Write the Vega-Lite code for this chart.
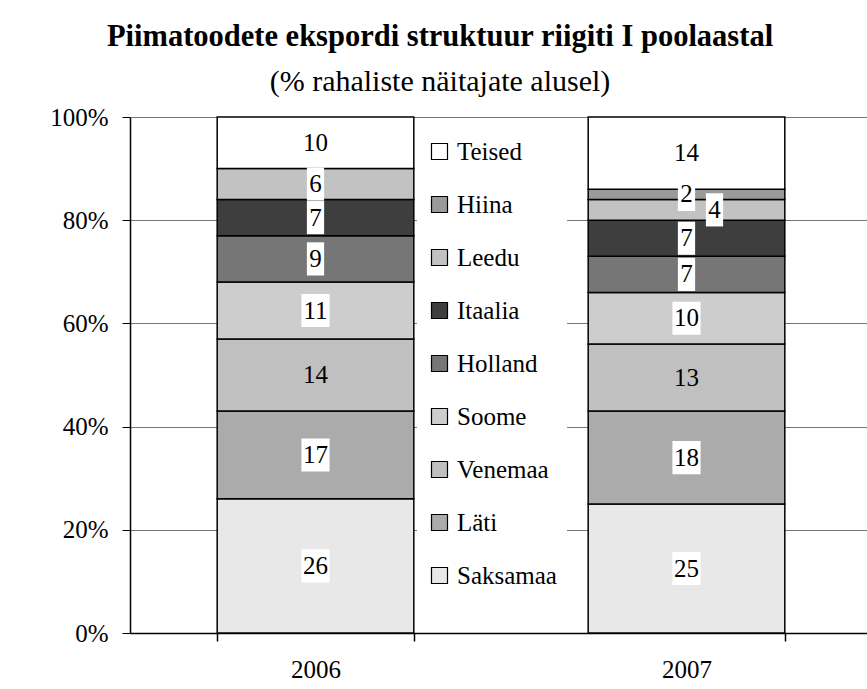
{
  "$schema": "https://vega.github.io/schema/vega-lite/v6.json",
  "width": 742,
  "height": 516,
  "autosize": "none",
  "padding": {"left": 130, "top": 117, "right": 0, "bottom": 56},
  "background": "white",
  "title": {
    "text": "Piimatoodete ekspordi struktuur riigiti I poolaastal",
    "subtitle": "(% rahaliste näitajate alusel)",
    "font": "Liberation Serif",
    "fontSize": 30.5,
    "fontWeight": "bold",
    "color": "black",
    "subtitleFont": "Liberation Serif",
    "subtitleFontSize": 30,
    "subtitleColor": "black",
    "subtitlePadding": 15,
    "anchor": "middle",
    "frame": "group",
    "dx": -61,
    "offset": 8
  },
  "data": {
    "values": [
      {"year": "2006", "country": "Saksamaa", "rank": 1, "value": 26},
      {"year": "2006", "country": "Läti", "rank": 2, "value": 17},
      {"year": "2006", "country": "Venemaa", "rank": 3, "value": 14},
      {"year": "2006", "country": "Soome", "rank": 4, "value": 11},
      {"year": "2006", "country": "Holland", "rank": 5, "value": 9},
      {"year": "2006", "country": "Itaalia", "rank": 6, "value": 7},
      {"year": "2006", "country": "Leedu", "rank": 7, "value": 6},
      {"year": "2006", "country": "Teised", "rank": 9, "value": 10},
      {"year": "2007", "country": "Saksamaa", "rank": 1, "value": 25},
      {"year": "2007", "country": "Läti", "rank": 2, "value": 18},
      {"year": "2007", "country": "Venemaa", "rank": 3, "value": 13},
      {"year": "2007", "country": "Soome", "rank": 4, "value": 10},
      {"year": "2007", "country": "Holland", "rank": 5, "value": 7},
      {"year": "2007", "country": "Itaalia", "rank": 6, "value": 7},
      {"year": "2007", "country": "Leedu", "rank": 7, "value": 4},
      {"year": "2007", "country": "Hiina", "rank": 8, "value": 2},
      {"year": "2007", "country": "Teised", "rank": 9, "value": 14}
    ]
  },
  "transform": [
    {"stack": "value", "groupby": ["year"], "sort": [{"field": "rank", "order": "ascending"}], "as": ["v0", "v1"]},
    {"calculate": "(datum.v0 + datum.v1) / 2", "as": "mid"}
  ],
  "encoding": {
    "x": {
      "field": "year",
      "type": "nominal",
      "scale": {"paddingInner": 0.47, "paddingOuter": 0.235},
      "axis": {
        "title": null,
        "labelAngle": 0,
        "labelFont": "Liberation Serif",
        "labelFontSize": 25,
        "labelColor": "black",
        "labelPadding": 16,
        "domainColor": "black",
        "domainWidth": 1.5,
        "tickColor": "black",
        "tickSize": 8,
        "tickWidth": 1.5,
        "tickBand": "extent",
        "grid": false
      }
    }
  },
  "layer": [
    {
      "mark": {"type": "bar", "stroke": "black", "strokeWidth": 1.5},
      "encoding": {
        "y": {
          "field": "v0",
          "type": "quantitative",
          "scale": {"domain": [0, 100], "nice": false},
          "axis": {
            "title": null,
            "values": [0, 20, 40, 60, 80, 100],
            "labelExpr": "datum.value + '%'",
            "labelFont": "Liberation Serif",
            "labelFontSize": 25,
            "labelColor": "black",
            "labelPadding": 14,
            "domainColor": "black",
            "domainWidth": 1.5,
            "tickColor": "black",
            "tickSize": 8,
            "tickWidth": 1,
            "grid": true,
            "gridColor": "#777777",
            "gridWidth": 1.2
          }
        },
        "y2": {"field": "v1"},
        "color": {
          "field": "country",
          "type": "nominal",
          "scale": {
            "domain": ["Teised", "Hiina", "Leedu", "Itaalia", "Holland", "Soome", "Venemaa", "Läti", "Saksamaa"],
            "range": ["#ffffff", "#9a9a9a", "#c2c2c2", "#3e3e3e", "#767676", "#cdcdcd", "#c0c0c0", "#ababab", "#e8e8e8"]
          },
          "legend": {
            "title": null,
            "orient": "none",
            "legendX": 287,
            "legendY": 12,
            "direction": "vertical",
            "fillColor": "white",
            "padding": 10,
            "symbolType": "square",
            "symbolSize": 256,
            "symbolStrokeColor": "black",
            "symbolStrokeWidth": 1.2,
            "symbolOpacity": 1,
            "labelFont": "Liberation Serif",
            "labelFontSize": 25,
            "labelColor": "black",
            "labelOffset": 5,
            "rowPadding": 27,
            "labelLimit": 300
          }
        },
        "order": {"field": "rank", "sort": "ascending"}
      }
    },
    {
      "transform": [{"filter": "datum.country != 'Venemaa' && datum.country != 'Teised' && datum.value < 10 && !(datum.year == '2007' && datum.country == 'Leedu')"}],
      "mark": {"type": "point", "shape": "M-0.52,-1H0.52V1H-0.52Z", "size": 1100, "filled": true, "fill": "white", "opacity": 1, "strokeWidth": 0},
      "encoding": {"y": {"field": "mid", "type": "quantitative"}}
    },
    {
      "transform": [{"filter": "datum.country != 'Venemaa' && datum.country != 'Teised' && datum.value >= 10"}],
      "mark": {"type": "point", "shape": "M-0.85,-1H0.85V1H-0.85Z", "size": 1100, "filled": true, "fill": "white", "opacity": 1, "strokeWidth": 0},
      "encoding": {"y": {"field": "mid", "type": "quantitative"}}
    },
    {
      "transform": [{"filter": "datum.year == '2007' && datum.country == 'Leedu'"}],
      "mark": {"type": "point", "shape": "M-0.52,-1H0.52V1H-0.52Z", "size": 1100, "filled": true, "fill": "white", "opacity": 1, "strokeWidth": 0, "xOffset": 28},
      "encoding": {"y": {"field": "mid", "type": "quantitative"}}
    },
    {
      "transform": [{"filter": "!(datum.year == '2007' && datum.country == 'Leedu')"}],
      "mark": {"type": "text", "font": "Liberation Serif", "fontSize": 25, "color": "black", "baseline": "middle", "align": "center"},
      "encoding": {
        "y": {"field": "mid", "type": "quantitative"},
        "text": {"field": "value", "type": "quantitative"}
      }
    },
    {
      "transform": [{"filter": "datum.year == '2007' && datum.country == 'Leedu'"}],
      "mark": {"type": "text", "font": "Liberation Serif", "fontSize": 25, "color": "black", "baseline": "middle", "align": "center", "dx": 28},
      "encoding": {
        "y": {"field": "mid", "type": "quantitative"},
        "text": {"field": "value", "type": "quantitative"}
      }
    }
  ],
  "config": {"view": {"stroke": null}}
}
